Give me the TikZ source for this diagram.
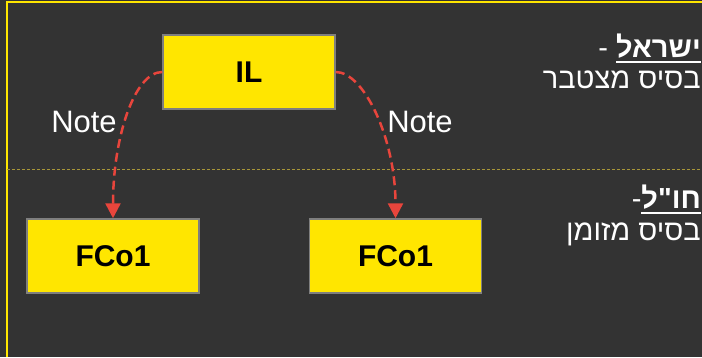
\documentclass[tikz,border=0pt]{standalone}
\usepackage{fontspec}
\setmainfont{Liberation Sans}
\newfontfamily\hebfont[Script=Hebrew]{Liberation Sans}
\TeXXeTstate=1
\usetikzlibrary{arrows.meta,positioning}
\definecolor{BoardGray}{HTML}{333333}
\definecolor{EntityYellow}{HTML}{FFE600}
\definecolor{BoxEdge}{HTML}{7F7F7F}
\definecolor{NoteRed}{HTML}{E8453C}
\definecolor{SplitOlive}{HTML}{A89638}
% underlined word with a thick rule
\newcommand\hebul[1]{\vtop{\hbox{#1}\kern3pt\hrule height 2pt}}

\begin{document}
\begin{tikzpicture}[x=1pt,y=-1pt,
  node distance=109pt,
  entity/.style={draw=BoxEdge,line width=1.5pt,fill=EntityYellow,minimum width=172pt,minimum height=74pt,inner sep=0pt,font=\fontsize{30}{36}\selectfont\bfseries},
  note/.style={text=white,font=\fontsize{31}{36}\selectfont},
  side/.style={text=white,inner sep=0pt,font=\fontsize{29}{31}\selectfont\hebfont},
  link/.style={-{Triangle[length=15pt,width=15pt]},NoteRed,line width=2.5pt,dash pattern=on 9pt off 5pt}
]
  \useasboundingbox (0,0) rectangle (702,357);
  \fill[BoardGray] (0,0) rectangle (702,357);
  \draw[EntityYellow,line width=2pt] (702,2) -- (7,2) -- (7,357);
  % split between the two bases
  \draw[SplitOlive,line width=0.8pt,dash pattern=on 3pt off 2pt] (7,169) -- (702,169);

  \node[entity] (il) at (249,72) {IL};
  \node[entity] (f1) at (113,256) {FCo1};
  \node[entity, right=of f1] (f2) {FCo1};

  \draw[link] (il.west) .. controls +(-28,0) and +(0,-80) .. (f1.north);
  \draw[link] (il.east) .. controls +(28,0) and +(0,-80) .. (f2.north);
  \node[note] (n1) at (84,122) {Note};
  \node[note] (n2) at (420,122) {Note};

  \node[side,anchor=base east] (il1) at (701,57) {\beginR\hebul{\bfseries ישראל} -\endR};
  \node[side,anchor=base east] (il2) at (701,88) {\beginR בסיס מצטבר\endR};
  \node[side,anchor=base east] (ab1) at (701,208) {\beginR\hebul{\bfseries חו"ל}-\endR};
  \node[side,anchor=base east] (ab2) at (701,240) {\beginR בסיס מזומן\endR};
\end{tikzpicture}
\end{document}
